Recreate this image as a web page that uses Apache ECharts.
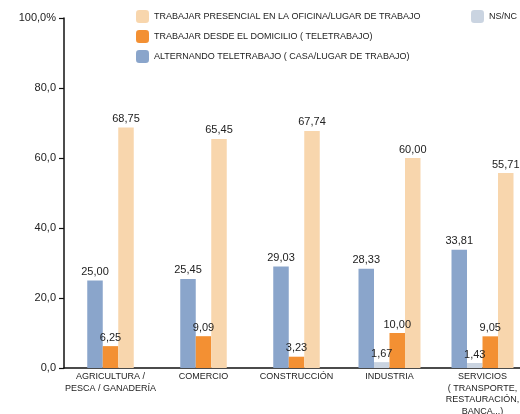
<!DOCTYPE html>
<html><head><meta charset="utf-8">
<script src="https://cdn.jsdelivr.net/npm/echarts@6/dist/echarts.min.js"></script>
<style>html,body{margin:0;padding:0;background:#fff}#c{width:520px;height:414px}</style>
</head><body><div id="c"></div>
<script>
var categories = ["AGRICULTURA /\nPESCA / GANADERÍA", "COMERCIO", "CONSTRUCCIÓN", "INDUSTRIA", "SERVICIOS\n( TRANSPORTE,\nRESTAURACIÓN,\nBANCA...)"];
var alternando = [25.00, 25.45, 29.03, 28.33, 33.81];
var nsnc = [null, null, null, 1.67, 1.43];
var domicilio = [6.25, 9.09, 3.23, 10.00, 9.05];
var presencial = [68.75, 65.45, 67.74, 60.00, 55.71];
var yTicks = [0, 20, 40, 60, 80, 100];

var names = {
  alt: "ALTERNANDO TELETRABAJO ( CASA/LUGAR DE TRABAJO)",
  ns: "NS/NC",
  dom: "TRABAJAR DESDE EL DOMICILIO ( TELETRABAJO)",
  pre: "TRABAJAR PRESENCIAL EN LA OFICINA/LUGAR DE TRABAJO"
};
var colors = {alt: "#8aa5cb", ns: "#cad4e1", dom: "#f39033", pre: "#f8d6ad"};
var values = {alt: alternando, ns: nsnc, dom: domicilio, pre: presencial};
var FONT = "Liberation Sans, Arial, sans-serif";

// categories with NS/NC data use 4 bars, others 3 bars (as in the original)
function mask(arr, withNs) {
  return arr.map(function (v, i) { return ((nsnc[i] != null) === withNs) ? v : null; });
}
var series = [];
[[false, 0, ["alt", "dom", "pre"]], [true, 1, ["alt", "ns", "dom", "pre"]]].forEach(function (g) {
  g[2].forEach(function (k) {
    series.push({
      type: "bar", name: names[k], xAxisIndex: g[1],
      data: mask(values[k], g[0]),
      barWidth: 15.5, barGap: "0%",
      itemStyle: {color: colors[k]},
      label: {
        show: true, position: "top", distance: 3,
        fontFamily: FONT, fontSize: 11, color: "#222",
        formatter: function (p) { return p.value == null ? "" : p.value.toFixed(2).replace(".", ","); }
      }
    });
  });
});

var chart = echarts.init(document.getElementById("c"), null, {renderer: "canvas"});
chart.setOption({
  animation: false,
  backgroundColor: "#fff",
  textStyle: {fontFamily: FONT},
  legend: [{
    left: 131, top: 5, orient: "vertical", itemGap: 7,
    itemWidth: 13, itemHeight: 13,
    textStyle: {fontFamily: FONT, fontSize: 9, color: "#222"},
    data: [names.pre, names.dom, names.alt]
  }, {
    left: 466, top: 5, itemWidth: 13, itemHeight: 13,
    textStyle: {fontFamily: FONT, fontSize: 9, color: "#222"},
    data: [names.ns]
  }],
  grid: {left: 64, top: 18, width: 465, bottom: 46, containLabel: false, outerBoundsMode: "none"},
  xAxis: [{
    type: "category", data: categories,
    axisLine: {lineStyle: {color: "#111", width: 1.5}},
    axisTick: {show: false},
    axisLabel: {interval: 0, fontFamily: FONT, fontSize: 9, color: "#222", lineHeight: 11.5, margin: 3}
  }, {
    type: "category", data: categories, show: false, position: "bottom"
  }],
  yAxis: {
    type: "value", min: 0, max: 100, interval: 20,
    splitLine: {show: false},
    axisLine: {show: true, lineStyle: {color: "#111", width: 1.5}},
    axisTick: {show: true, length: 5, lineStyle: {color: "#111", width: 1.2}},
    axisLabel: {
      fontFamily: FONT, fontSize: 11, color: "#222", margin: 8,
      formatter: function (v) { return yTicks.indexOf(v) >= 0 ? (v.toFixed(1).replace(".", ",") + (v === 100 ? "%" : "")) : ""; }
    }
  },
  series: series
});
</script></body></html>
